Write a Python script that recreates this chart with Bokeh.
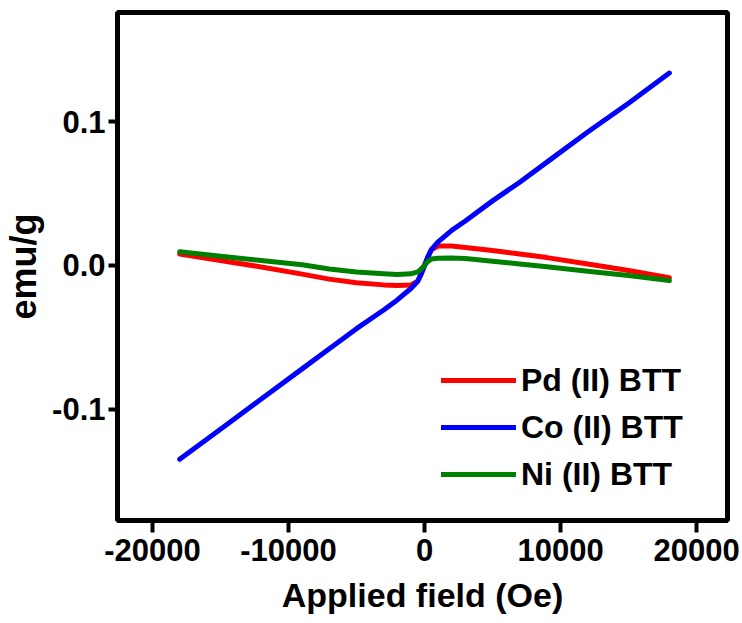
from bokeh.plotting import figure
from bokeh.models import Range1d, FixedTicker, Legend, LegendItem
from bokeh.embed import file_html
from bokeh.resources import INLINE

# Applied field (Oe)
field = [-18000, -15000, -12000, -9000, -7000, -5000, -3000, -2000, -1000, -500, -250, 0,
         250, 500, 1000, 2000, 3000, 5000, 7000, 9000, 12000, 15000, 18000]

# emu/g
pd_btt = [0.008, 0.0035, -0.001, -0.006, -0.0095, -0.012, -0.0135, -0.014, -0.0135, -0.011, -0.006, 0.0,
          0.006, 0.011, 0.0135, 0.0135, 0.0125, 0.0105, 0.008, 0.0055, 0.001, -0.0035, -0.0085]
co_btt = [-0.135, -0.114, -0.093, -0.072, -0.058, -0.044, -0.031, -0.024, -0.016, -0.011, -0.006, 0.0,
          0.006, 0.011, 0.0165, 0.0245, 0.031, 0.045, 0.058, 0.072, 0.093, 0.113, 0.134]
ni_btt = [0.0095, 0.0065, 0.0035, 0.0005, -0.0025, -0.0045, -0.0058, -0.0063, -0.0058, -0.0045, -0.0025, 0.0,
          0.0028, 0.0045, 0.005, 0.0052, 0.0048, 0.003, 0.001, -0.0008, -0.004, -0.007, -0.0105]

series_names = ["Pd (II) BTT", "Co (II) BTT", "Ni (II) BTT"]
series_colors = ["#FF0000", "#0000FF", "#008000"]

x_ticks = [-20000, -10000, 0, 10000, 20000]
x_tick_labels = ["-20000", "-10000", "0", "10000", "20000"]
y_ticks = [-0.1, 0.0, 0.1]
y_tick_labels = ["-0.1", "0.0", "0.1"]

FONT = "Liberation Sans"

p = figure(width=742, height=623, output_backend="svg", toolbar_location=None,
           x_range=Range1d(-22570, 22275), y_range=Range1d(-0.1776, 0.1762),
           min_border_left=116, min_border_right=15, min_border_top=12, min_border_bottom=103)
p.background_fill_color = "white"
p.border_fill_color = "white"
p.grid.visible = False
p.outline_line_color = "black"
p.outline_line_width = 5

renderers = []
for ys, name, col in zip([pd_btt, co_btt, ni_btt], series_names, series_colors):
    r = p.line(field, ys, line_color=col, line_width=5, line_cap="round", line_join="round")
    renderers.append((name, r))

for ax in [p.xaxis[0], p.yaxis[0]]:
    ax.axis_line_color = None
    ax.major_tick_line_width = 4
    ax.major_tick_line_color = "black"
    ax.major_tick_in = 0
    ax.minor_tick_line_color = None
    ax.major_label_text_font = FONT
    ax.major_label_text_font_style = "bold"
    ax.major_label_text_font_size = "31px"
    ax.major_label_text_color = "black"
    ax.axis_label_text_font = FONT
    ax.axis_label_text_font_style = "bold"
    ax.axis_label_text_color = "black"

p.xaxis[0].ticker = FixedTicker(ticks=x_ticks)
p.xaxis[0].major_label_overrides = dict(zip(x_ticks, x_tick_labels))
p.xaxis[0].major_tick_out = 12
p.xaxis[0].major_label_standoff = 6
p.xaxis[0].axis_label = "Applied field (Oe)"
p.xaxis[0].axis_label_text_font_size = "34px"
p.xaxis[0].axis_label_standoff = 12

p.yaxis[0].ticker = FixedTicker(ticks=y_ticks)
p.yaxis[0].major_label_overrides = dict(zip(y_ticks, y_tick_labels))
p.yaxis[0].major_tick_out = 9
p.yaxis[0].major_label_standoff = 3
p.yaxis[0].axis_label = "emu/g"
p.yaxis[0].axis_label_text_font_size = "36px"
p.yaxis[0].axis_label_standoff = 5

legend = Legend(items=[LegendItem(label=n, renderers=[r]) for n, r in renderers],
                location=(324, 26), border_line_color=None, background_fill_alpha=0,
                glyph_width=75, glyph_height=40, label_height=40, spacing=7,
                padding=0, margin=0, label_standoff=5,
                label_text_font=FONT, label_text_font_style="bold",
                label_text_font_size="32px", label_text_color="black")
p.add_layout(legend, "center")

open("out.html", "w").write(file_html(p, INLINE))
